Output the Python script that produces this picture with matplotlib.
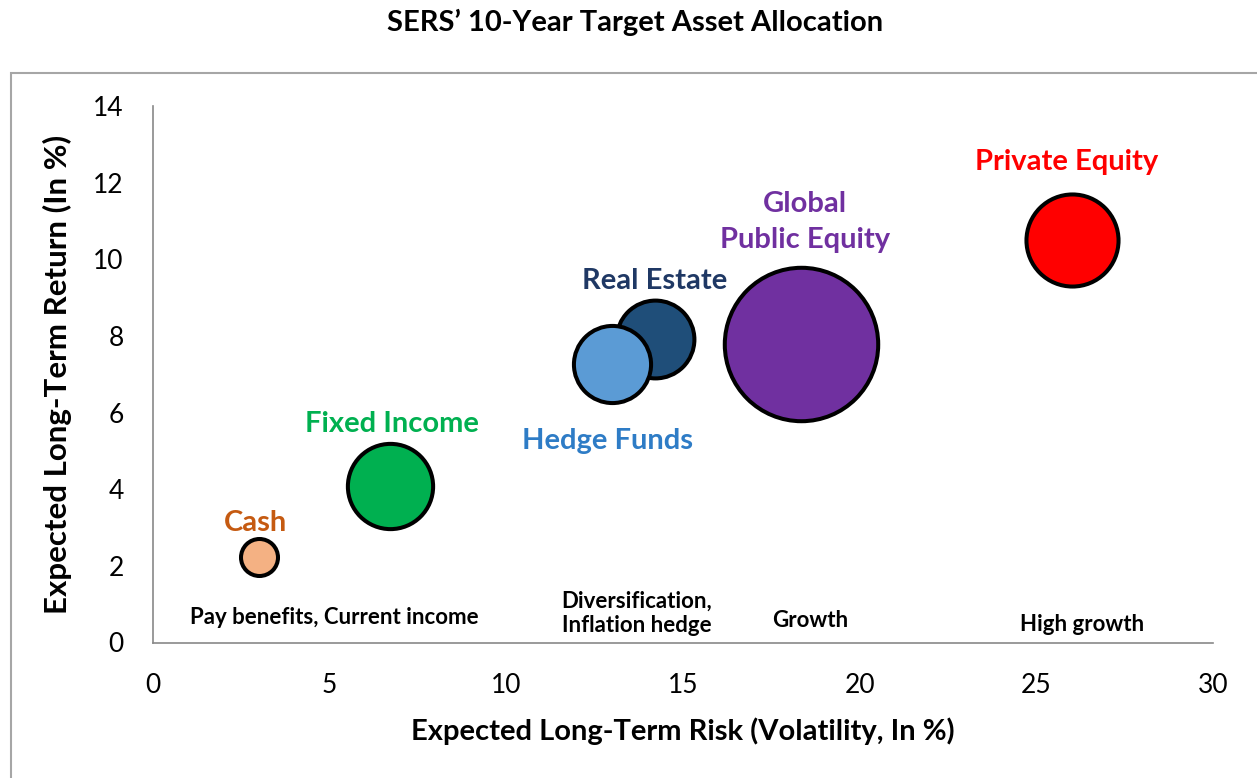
import matplotlib
matplotlib.use('Agg')
import matplotlib.pyplot as plt
from matplotlib.patches import Rectangle

plt.rcParams['font.family'] = ['Lato', 'DejaVu Sans']

# Dades
classes   = ['Cash', 'Fixed Income', 'Real Estate', 'Hedge Funds', 'Global\nPublic Equity', 'Private Equity']
risc      = [3.0, 6.7, 14.2, 13.0, 18.35, 26.0]
retorn    = [2.22, 4.09, 7.91, 7.26, 7.78, 10.5]
pes       = [2.6, 13.8, 11.5, 11.3, 44.7, 16.1]
colors    = ['#F4B183', '#00B050', '#1F4E79', '#5B9BD5', '#7030A0', '#FF0000']
col_text  = ['#C55A11', '#00B050', '#1F3864', '#2E7CC6', '#7030A0', '#FF0000']
rols      = ['Pay benefits, Current income', 'Diversification,\nInflation hedge', 'Growth', 'High growth']
rols_x    = [5.12, 13.7, 18.6, 26.3]
rols_y    = [0.66, 0.76, 0.57, 0.47]

fig = plt.figure(figsize=(12.57, 7.78), dpi=100)
ax = fig.add_axes((153/1257, 1-642.5/778, (1213-153)/1257, (642.5-106)/778))

# marc exterior
fig.patches.append(Rectangle((11/1257, -0.1), 1.1, 1.1-73/778, transform=fig.transFigure,
                             fill=False, edgecolor='#A6A6A6', linewidth=1.5, zorder=0))

# bombolles
escala = 273.
for i in range(len(classes)):
    ax.scatter(risc[i], retorn[i], s=pes[i]*escala, color=colors[i], edgecolor='black',
               linewidth=2.9, zorder=3, clip_on=False)

# etiquetes de les bombolles (desplacament respecte el centre)
offs = [(-0.1, 0.89), (0.05, 1.6), (0, 1.52), (-0.15, -2.01), (0.1, 3.19), (-0.13, 2.04)]
for i in range(len(classes)):
    ax.text(risc[i]+offs[i][0], retorn[i]+offs[i][1], classes[i], color=col_text[i],
            fontsize=21, fontweight='bold', ha='center', va='center', linespacing=1.45, zorder=4)

for t, x, y in zip(rols, rols_x, rols_y):
    ax.text(x, y, t, fontsize=16, fontweight='bold', ha='center', va='center', linespacing=1.2)

ax.set_xlim(0, 30)
ax.set_ylim(0, 14)
ax.set_xticks(range(0, 31, 5))
ax.set_yticks(range(0, 15, 2))
ax.tick_params(length=0, labelsize=19)
ax.tick_params(axis='x', pad=22)
ax.tick_params(axis='y', pad=21)
for s in ['top', 'right']:
    ax.spines[s].set_visible(False)
for s in ['left', 'bottom']:
    ax.spines[s].set_color('#898989')
    ax.spines[s].set_linewidth(1.2)

ax.set_xlabel('Expected Long-Term Risk (Volatility, In %)', fontsize=21, fontweight='bold', labelpad=14)
ax.set_ylabel('Expected Long-Term Return (In %)', fontsize=22.5, fontweight='bold', labelpad=15)
fig.text(0.505, 1-22/778, 'SERS\u2019 10-Year Target Asset Allocation', fontsize=21, fontweight='bold',
         ha='center', va='center')

fig.savefig('out.png', dpi=100)
